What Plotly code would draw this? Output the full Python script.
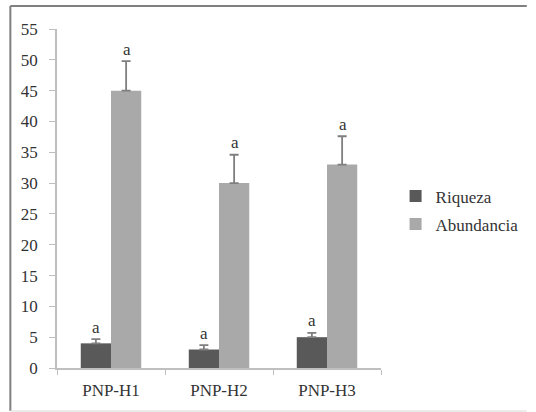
import plotly.graph_objects as go

categories = ["PNP-H1", "PNP-H2", "PNP-H3"]
riqueza = [4, 3, 5]
riqueza_err = [0.7, 0.7, 0.7]
abundancia = [45, 30, 33]
abundancia_err = [4.8, 4.6, 4.6]
letters_riq = ["a", "a", "a"]
letters_abu = ["a", "a", "a"]
y_ticks = list(range(0, 56, 5))

FONT = "Liberation Serif"
AX = "#bfbfbf"
TXT = "#333333"
FS = 17

fig = go.Figure()
fig.add_trace(go.Bar(
    name="Riqueza", x=categories, y=riqueza, legendgroup="r",
    marker=dict(color="#595959", line=dict(width=0)),
    error_y=dict(type="data", array=riqueza_err, symmetric=False, arrayminus=[0]*3,
                 color="#7f7f7f", thickness=1.8, width=4.5),
))
fig.add_trace(go.Bar(
    name="Abundancia", x=categories, y=abundancia, legendgroup="a",
    marker=dict(color="#a9a9a9", line=dict(width=0)),
    error_y=dict(type="data", array=abundancia_err, symmetric=False, arrayminus=[0]*3,
                 color="#7f7f7f", thickness=1.8, width=4.5),
))

# letters above error bars
for i, c in enumerate(categories):
    fig.add_annotation(x=c, y=riqueza[i] + riqueza_err[i], text=letters_riq[i],
                       xshift=-15.5, yshift=12, showarrow=False,
                       font=dict(family=FONT, size=FS, color=TXT))
    fig.add_annotation(x=c, y=abundancia[i] + abundancia_err[i], text=letters_abu[i],
                       xshift=15.5, yshift=12, showarrow=False,
                       font=dict(family=FONT, size=FS, color=TXT))

# outer chart border
fig.add_shape(type="line", xref="paper", yref="paper", x0=-0.144, x1=1.45, y0=1.068, y1=1.068,
              line=dict(color="#808080", width=2))
fig.add_shape(type="line", xref="paper", yref="paper", x0=-0.144, x1=-0.144, y0=-0.127, y1=1.068,
              line=dict(color="#808080", width=2))
fig.add_shape(type="line", xref="paper", yref="paper", x0=-0.144, x1=1.45, y0=-0.127, y1=-0.127,
              line=dict(color="#e6e6e6", width=1.5))

fig.update_layout(
    width=536, height=412,
    margin=dict(l=57, r=145, t=29, b=44),
    paper_bgcolor="white", plot_bgcolor="white",
    barmode="group", bargap=0.44, bargroupgap=0,
    font=dict(family=FONT, size=FS, color=TXT),
    showlegend=True,
    legend=dict(x=1.045, y=0.465, xanchor="left", yanchor="middle",
                font=dict(family=FONT, size=FS, color=TXT),
                itemwidth=30, tracegroupgap=3, bgcolor="rgba(0,0,0,0)"),
    xaxis=dict(showline=True, linecolor=AX, linewidth=1.5, ticks="outside",
               tickson="boundaries", ticklen=5, tickcolor=AX, showgrid=False,
               ticklabelstandoff=6,
               tickfont=dict(family=FONT, size=FS, color=TXT)),
    yaxis=dict(range=[0, 55], tickvals=y_ticks, showline=True, linecolor=AX, linewidth=1.5,
               ticks="outside", ticklen=6, tickcolor=AX, showgrid=False, zeroline=False,
               ticklabelstandoff=8,
               tickfont=dict(family=FONT, size=FS, color=TXT)),
)

fig.write_html("out.html", config={"displayModeBar": False},
               post_script=("document.documentElement.style.overflow='hidden';"
                            "document.body.style.margin='0';"
                            "document.body.style.overflow='hidden';"))
